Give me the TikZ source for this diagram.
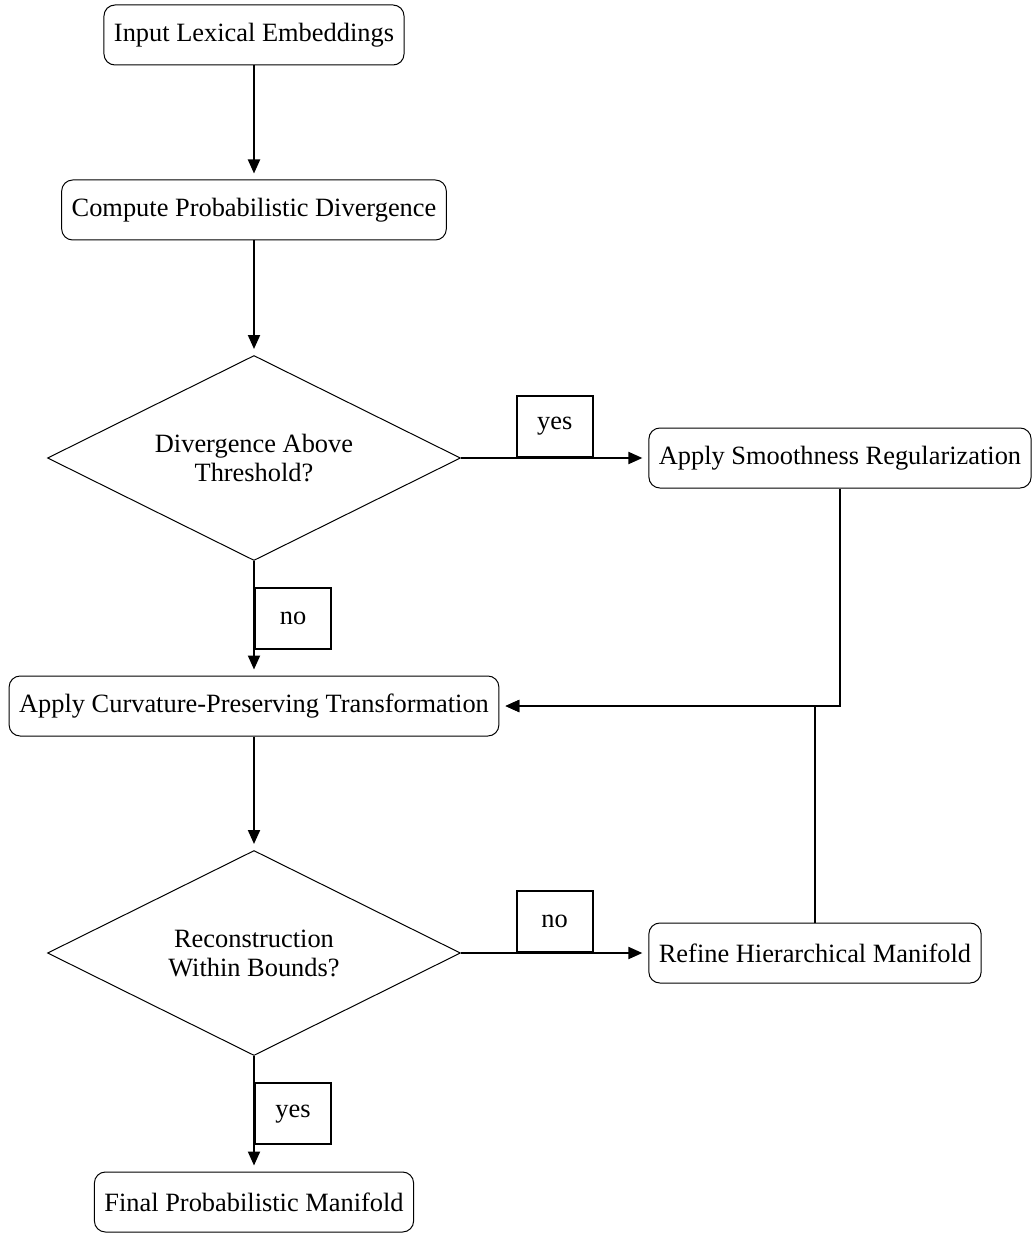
\documentclass[tikz,border=0pt]{standalone}
\usepackage{fontspec}
\setmainfont{Liberation Serif}
\usetikzlibrary{shapes.geometric,arrows.meta}
\begin{document}
\begin{tikzpicture}[x=1pt,y=-1pt,
  font=\fontsize{26.4}{29}\selectfont,
  proc/.style={draw,line width=1pt,rounded corners=11pt,minimum height=60pt,inner xsep=10pt,inner ysep=4pt},
  dec/.style={draw,line width=1pt,diamond,shape aspect=2.015,minimum width=413pt,minimum height=205pt,inner sep=0pt,align=center},
  edge/.style={line width=2pt,-{Triangle[length=14pt,width=12pt]},shorten >=6pt},
  lab/.style={draw,line width=2pt,fill=white,minimum width=76pt,minimum height=61pt,inner sep=0pt}]
\useasboundingbox (0,0) rectangle (1031,1233);
\node[proc] (in) at (254,35) {Input Lexical Embeddings};
\node[proc] (cp) at (254,210) {Compute Probabilistic Divergence};
\node[dec] (d1) at (254,458) {Divergence Above\\Threshold?};
\node[proc] (sm) at (840,458) {Apply Smoothness Regularization};
\node[proc] (cv) at (254,706) {Apply Curvature-Preserving Transformation};
\node[dec] (d2) at (254,953) {Reconstruction\\Within Bounds?};
\node[proc] (rf) at (815,953) {Refine Hierarchical Manifold};
\node[proc] (fn) at (254,1202) {Final Probabilistic Manifold};
\draw[edge] (in) -- (cp);
\draw[edge] (cp) -- (d1);
\draw[edge] (d1.east) -- node[lab,anchor=south]{yes} (sm.west);
\draw[edge] (d1.south) -- node[lab,anchor=west]{no} (cv.north);
\draw[edge] (sm.south) |- (cv.east);
\draw[edge] (rf.north) |- (cv.east);
\draw[edge] (cv) -- (d2);
\draw[edge] (d2.east) -- node[lab,anchor=south]{no} (rf.west);
\draw[edge] (d2.south) -- node[lab,anchor=west]{yes} (fn.north);
\end{tikzpicture}
\end{document}
